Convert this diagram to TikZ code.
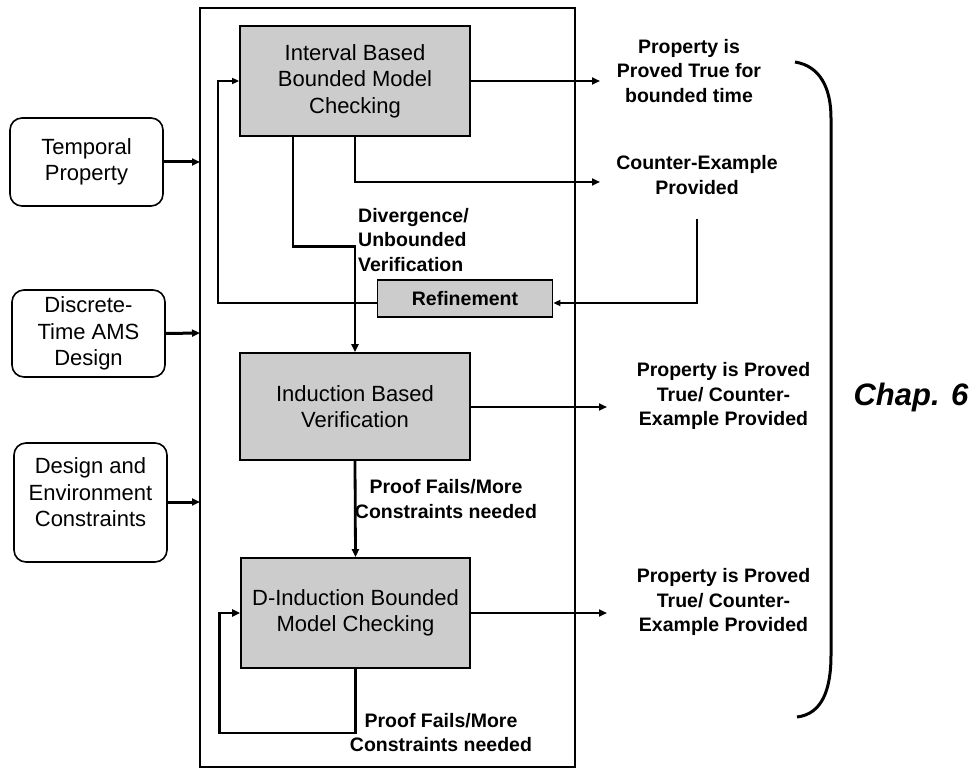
\documentclass[tikz,border=0pt]{standalone}
\usepackage{fontspec}
\setmainfont{Liberation Sans}
\usetikzlibrary{arrows.meta,calc}
\begin{document}
\begin{tikzpicture}[x=1pt,y=-1pt,
  boxtxt/.style={font=\fontsize{22}{26.5}\selectfont, align=center},
  lbltxt/.style={font=\fontsize{19.5}{24.2}\selectfont\bfseries, align=center, inner sep=0pt},
  stage/.style={draw, line width=1.8pt, fill=black!20, boxtxt, inner sep=0pt},
  inbox/.style={draw, line width=1.6pt, rounded corners=12pt, boxtxt, inner sep=0pt,
                minimum width=153pt},
  flow/.style={line width=2.8pt, -{Triangle[length=8pt,width=7pt]}},
  thinflow/.style={line width=2pt, -{Triangle[length=7pt,width=6pt]}}]
\useasboundingbox (0,0) rectangle (975,770);

% enclosing frame of the verification flow
\draw[line width=1.6pt] (200,8) rectangle (575,767);

% verification stages
\node[stage, minimum width=230pt, minimum height=110pt] (ibbmc) at (355,81)
  {Interval Based\\Bounded Model\\Checking};
\node[stage, minimum width=230pt, minimum height=107pt] (ind) at (355,406.5)
  {Induction Based\\Verification};
\node[stage, minimum width=229pt, minimum height=110pt] (dind) at (355.5,613)
  {D-Induction Bounded\\Model Checking};
\node[draw, line width=1.8pt, fill=black!20, minimum width=175pt, minimum height=37pt,
      inner sep=0pt, font=\fontsize{19.5}{24}\selectfont\bfseries] (refine) at (465,298.5)
  {Refinement};

% inputs
\node[inbox, minimum height=88pt] (tp) at (86.5,162) {Temporal\\Property};
\node[inbox, minimum height=87pt] (dt) at (88.5,333.5) {Discrete-\\Time AMS\\Design};
\node[inbox, minimum height=119pt,
      label={[boxtxt, yshift=10pt]center:Design and\\Environment\\Constraints}]
  (dec) at (90.5,502.5) {};

\coordinate (f1) at (200,162);
\coordinate (f2) at (200,333);
\coordinate (f3) at (200,502);
\draw[flow, line width=3pt] (tp.east) -- (f1);
\draw[flow, line width=3pt] (dt.east) -- (f2);
\draw[flow, line width=3pt] (dec.east |- f3) -- (f3);

% results
\node[lbltxt] (res1) at (689,71) {Property is\\Proved True for\\bounded time};
\node[lbltxt] (cex) at (697,175) {Counter-Example\\Provided};
\node[lbltxt] (res2) at (723.5,396) {Property is Proved\\True/ Counter-\\Example Provided};
\node[lbltxt] (res3) at (723.5,602) {Property is Proved\\True/ Counter-\\Example Provided};

\coordinate (e1) at (600,81);
\coordinate (e2) at (600,182);
\coordinate (e3) at (607,407);
\coordinate (e4) at (607,613);
\coordinate (c1) at (697,219);

\draw[flow] (ibbmc.east) -- (e1);
\draw[flow] (ibbmc.south) |- (e2);
\draw[flow] (ind.east |- e3) -- (e3);
\draw[flow] (dind.east) -- (e4);

% counter-example drives refinement, which feeds back to the BMC stage
\draw[thinflow] (c1) |- ($(refine.east)+(0,4.5)$);
\draw[thinflow] ($(refine.west)+(0,4.5)$) -| ($(ibbmc.west)+(-21,0)$) -- (ibbmc.west);

% divergence hands over to induction
\draw[flow] ($(ibbmc.south)+(-62,0)$) -- ++(0,110) -| (ind.north);
\node[lbltxt, align=left, anchor=west] (div) at (358,240)
  {Divergence/\\Unbounded\\Verification};

% induction to D-induction
\draw[flow] (ind.south) -- (dind.north);
\node[lbltxt] (pf1) at (446,499) {Proof Fails/More\\Constraints needed};

% D-induction self loop
\draw[flow] (dind.south) -- ++(0,64) -| ($(dind.west)+(-21,0)$) -- (dind.west);
\node[lbltxt] (pf2) at (441,732.5) {Proof Fails/More\\Constraints needed};

% chapter bracket
\draw[line width=3pt] (795,62) .. controls (820,66) and (831,88) .. (831,118)
  -- (831,655) .. controls (831,690) and (822,714) .. (797,717);
\node[font=\fontsize{31}{36}\selectfont\bfseries\itshape] (chap) at (911,397) {Chap. 6};
\end{tikzpicture}
\end{document}
